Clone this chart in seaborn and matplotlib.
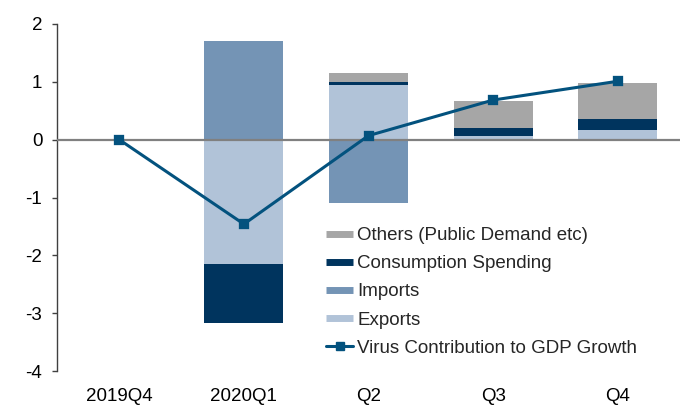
import numpy as np
import pandas as pd
import matplotlib
matplotlib.use("Agg")
import matplotlib.pyplot as plt
from matplotlib.lines import Line2D
import seaborn as sns

categories = ["2019Q4", "2020Q1", "Q2", "Q3", "Q4"]
exports = [0.0, -2.15, 0.95, 0.07, 0.16]
imports = [0.0, 1.71, -1.10, 0.0, 0.0]
consumption = [0.0, -1.02, 0.04, 0.13, 0.20]
others = [0.0, 0.0, 0.17, 0.47, 0.62]
virus = [0.0, -1.46, 0.07, 0.685, 1.01]

series_names = ["Exports", "Imports", "Consumption Spending", "Others (Public Demand etc)"]
series_vals = [exports, imports, consumption, others]
colors = {
    "Exports": "#B1C3D8",
    "Imports": "#7494B5",
    "Consumption Spending": "#00345E",
    "Others (Public Demand etc)": "#A6A6A6",
}
line_color = "#03527E"

sns.set_theme(style="white")
plt.rcParams["font.family"] = ["Liberation Sans", "DejaVu Sans"]
FS = 13.5

fig = plt.figure(figsize=(6.82, 4.08), dpi=100)
ax = fig.add_axes([57 / 682, 37 / 408, 623 / 682, 347 / 408])

# cumulative stacks (positive and negative separately)
vals = np.array(series_vals, dtype=float)
pos = np.where(vals > 0, vals, 0).cumsum(axis=0)
neg = np.where(vals < 0, vals, 0).cumsum(axis=0)

for i in reversed(range(len(series_names))):
    name = series_names[i]
    hp = np.where(vals[i] > 0, pos[i], 0.0)
    hn = np.where(vals[i] < 0, neg[i], 0.0)
    for h in (hp, hn):
        df = pd.DataFrame({"cat": categories, "val": h})
        sns.barplot(data=df, x="cat", y="val", color=colors[name], saturation=1,
                    width=0.635, linewidth=0, errorbar=None, ax=ax, zorder=2)

ax.axhline(0, color="#808080", lw=1.6, zorder=3)

dfl = pd.DataFrame({"cat": categories, "val": virus})
sns.pointplot(data=dfl, x="cat", y="val", color=line_color, markers="s",
              markersize=6, linewidth=2.2, errorbar=None, ax=ax)
for coll in ax.lines[-1:]:
    coll.set_zorder(5)
for c in ax.collections:
    c.set_zorder(5)

ax.set_xlim(-0.5, 4.5)
ax.set_ylim(-4, 2)
ax.set_yticks(range(-4, 3))
ax.set_yticklabels([str(v) for v in range(-4, 3)])
ax.set_xlabel("")
ax.set_ylabel("")
for s in ["top", "right", "bottom"]:
    ax.spines[s].set_visible(False)
ax.spines["left"].set_color("#404040")
ax.spines["left"].set_linewidth(1.0)
ax.tick_params(axis="y", which="major", left=True, length=3.6, width=1.0,
               color="#404040", pad=7, labelsize=FS, labelcolor="black")
ax.tick_params(axis="x", length=0, pad=12, labelsize=FS, labelcolor="black")
ax.grid(False)

handles = [
    Line2D([0], [0], color=colors["Others (Public Demand etc)"], lw=5.0, solid_capstyle="butt"),
    Line2D([0], [0], color=colors["Consumption Spending"], lw=5.0, solid_capstyle="butt"),
    Line2D([0], [0], color=colors["Imports"], lw=5.0, solid_capstyle="butt"),
    Line2D([0], [0], color=colors["Exports"], lw=5.0, solid_capstyle="butt"),
    Line2D([0], [0], color=line_color, lw=2.2, marker="s", markersize=6),
]
labels = ["Others (Public Demand etc)", "Consumption Spending", "Imports", "Exports",
          "Virus Contribution to GDP Growth"]
ax.legend(handles, labels, loc="upper left", bbox_to_anchor=(326 / 682, 1 - 227 / 408),
          bbox_transform=fig.transFigure, frameon=False, fontsize=FS,
          handlelength=1.44, handletextpad=0.22, labelspacing=0.59, borderpad=0,
          borderaxespad=0)

fig.savefig("out.png", dpi=100)
